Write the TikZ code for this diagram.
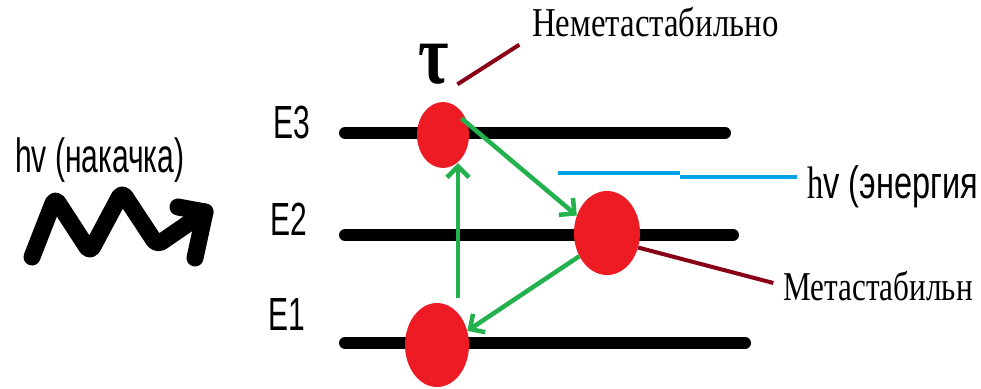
\documentclass[tikz,border=0pt]{standalone}
\usepackage{fontspec}
\setmainfont{Liberation Serif}
\setsansfont{Liberation Sans}
\usetikzlibrary{shapes.geometric,arrows.meta}
\definecolor{ballred}{RGB}{237,28,36}
\definecolor{jumpgreen}{RGB}{34,177,76}
\definecolor{photonblue}{RGB}{0,162,232}
\definecolor{pointerred}{RGB}{136,0,21}
\newcommand{\vs}[2]{\scalebox{1}[#1]{#2}}

\begin{document}
\begin{tikzpicture}[x=1pt,y=-1pt,
	level/.style={line width=12pt,line cap=round},
	ball/.style={ellipse,fill=ballred,inner sep=0pt},
	jump/.style={draw=jumpgreen,line width=4.5pt,-{Straight Barb[length=11pt,width=22pt]}},
	photon/.style={draw=photonblue,line width=4pt},
	pointer/.style={draw=pointerred,line width=4pt},
	lbl/.style={inner sep=0pt,anchor=base west},
	sans/.style={font=\sffamily\fontsize{30}{30}\selectfont},
	serif/.style={font=\fontsize{32.8}{33}\selectfont}]
	\useasboundingbox (0,0) rectangle (981,388);
	\clip (0,0) rectangle (981,388);
	\node[lbl,sans] (pump) at (15,172) {\vs{1.6}{hv (накачка)}};
	\draw[line width=17pt,line cap=round,line join=round,rounded corners=6pt] (32,257) -- (55,198) -- (90,252) -- (122,192) -- (157,245) -- (205,212);
	\draw[line width=17pt,line cap=round,line join=round] (178,207) -- (205,212) -- (195,258);
	\foreach \n/\x/\y in {3/273/138,2/270/235,1/268/330}
		\node[lbl,sans] (E\n) at (\x,\y) {\vs{1.55}{E\n}};
	\foreach \y/\r in {133/725,235/733,343/745}
		\draw[level] (345,\y) -- (\r,\y);
	\coordinate (b0) at (558,173);
	\coordinate (b1) at (680,173);
	\coordinate (b2) at (680,177);
	\coordinate (b3) at (797,177);
	\draw[photon] (b0) -- (b1) (b2) -- (b3);
	\node[ball,minimum width=52pt,minimum height=66pt] (hi) at (443,135) {};
	\node[ball,minimum width=66pt,minimum height=84pt] (mid) at (607,233) {};
	\node[ball,minimum width=64pt,minimum height=84pt] (lo) at (437,345) {};
	\draw[jump,shorten <=5pt,shorten >=-5pt] ([xshift=21pt]lo.north) -- ([xshift=15pt]hi.south);
	\draw[jump,shorten <=-8pt] (hi.25) -- (mid.150);
	\draw[jump] (mid.220) -- (lo.25);
	\node[inner sep=0pt,font=\bfseries\fontsize{66}{66}\selectfont] (tau) at (434,64) {\vs{1.3}{τ}};
	\node[lbl,serif] (nonmeta) at (532,36) {\vs{1.25}{Неметастабильно}};
	\node[lbl,serif] (meta) at (783,300) {\scalebox{0.95}[1.25]{Метастабильн}};
	\node[lbl,sans,font=\sffamily\fontsize{32.5}{33}\selectfont] (energy) at (807,198) {\vs{1.4}{{\rmfamily h}v (энергия}};
	\draw[pointer,shorten >=15pt] ([xshift=8pt]tau.south east) -- (nonmeta.south west);
	\draw[pointer,shorten >=10pt] (mid.-25) -- (meta.west);
\end{tikzpicture}
\end{document}
